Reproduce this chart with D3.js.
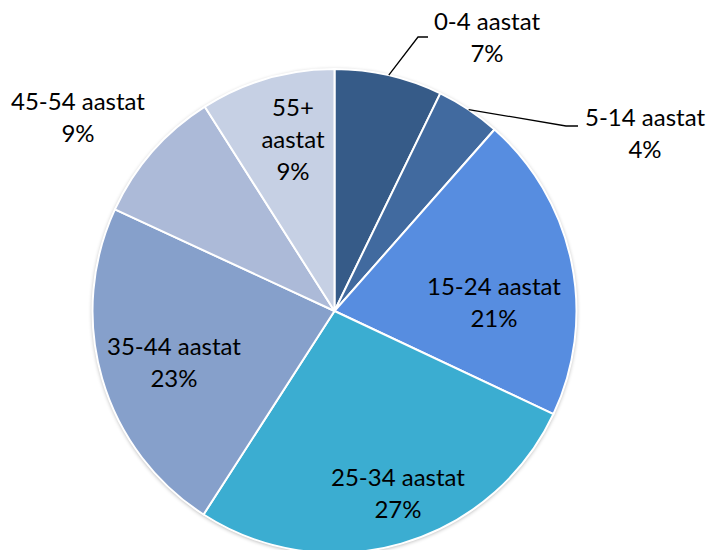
<!DOCTYPE html>
<html>
<head>
<meta charset="utf-8">
<script src="https://cdn.jsdelivr.net/npm/d3@7"></script>
<style>
  html, body { margin: 0; padding: 0; background: #fff; }
  svg { display: block; }
  text { font-family: Lato, "Open Sans", sans-serif; fill: #000; }
</style>
</head>
<body>
<svg id="chart" width="710" height="550"></svg>
<script>
// ---- data ----
const categories = ["0-4 aastat", "5-14 aastat", "15-24 aastat", "25-34 aastat", "35-44 aastat", "45-54 aastat", "55+ aastat"];
const shares = [7.2, 4.3, 20.5, 27.1, 22.8, 9.1, 9.0];
const percentLabels = ["7%", "4%", "21%", "27%", "23%", "9%", "9%"];
const labelLines = [["0-4 aastat"], ["5-14 aastat"], ["15-24 aastat"], ["25-34 aastat"], ["35-44 aastat"], ["45-54 aastat"], ["55+", "aastat"]];

// ---- layout / style ----
const colors = ["#365b88", "#416a9f", "#578de0", "#3badd1", "#86a0cb", "#acbad8", "#c6d0e4"];
const cx = 334.5, cy = 311, R = 242;
const fontSize = 24, lineH = 32;
// label centre (first line) positions
const labelPos = [[487, 22], [645, 118], [494, 287], [398, 478], [174, 347], [78, 102], [293, 108]];
// leader elbows for outside labels: [elbowX, elbowY, endX]
const leaders = {0: [418, 37, 428], 1: [566, 126, 578]};

const svg = d3.select("#chart");
const defs = svg.append("defs");
const f = defs.append("filter").attr("id", "sh").attr("x", "-10%").attr("y", "-10%").attr("width", "120%").attr("height", "120%");
f.append("feGaussianBlur").attr("in", "SourceAlpha").attr("stdDeviation", 2);
f.append("feOffset").attr("dx", 0).attr("dy", 1).attr("result", "b");
f.append("feComponentTransfer").append("feFuncA").attr("type", "linear").attr("slope", 0.35);
const m = f.append("feMerge");
m.append("feMergeNode");
m.append("feMergeNode").attr("in", "SourceGraphic");

const pie = d3.pie().sort(null).value(d => d).startAngle(0).endAngle(2 * Math.PI);
const arcs = pie(shares);
const arc = d3.arc().innerRadius(0).outerRadius(R);

const g = svg.append("g").attr("transform", `translate(${cx},${cy})`);
g.append("circle").attr("r", R).attr("fill", "#fff").attr("filter", "url(#sh)");
g.selectAll("path.slice")
  .data(arcs)
  .join("path")
  .attr("class", "slice")
  .attr("d", arc)
  .attr("fill", (d, i) => colors[i])
  .attr("stroke", "#fff")
  .attr("stroke-width", 2)
  .attr("stroke-linejoin", "round");

// leader lines
Object.keys(leaders).forEach(k => {
  const i = +k;
  const a = arcs[i];
  const mid = (a.startAngle + a.endAngle) / 2;
  const sx = cx + R * Math.sin(mid), sy = cy - R * Math.cos(mid);
  const [ex, ey, endX] = leaders[k];
  svg.append("polyline")
    .attr("points", `${sx},${sy} ${ex},${ey} ${endX},${ey}`)
    .attr("fill", "none")
    .attr("stroke", "#000")
    .attr("stroke-width", 1.3);
});

// labels
categories.forEach((c, i) => {
  const [x, y] = labelPos[i];
  const lines = labelLines[i].concat([percentLabels[i]]);
  const t = svg.append("text")
    .attr("text-anchor", "middle")
    .attr("font-size", fontSize);
  lines.forEach((ln, j) => {
    t.append("tspan")
      .attr("x", x)
      .attr("y", y + j * lineH)
      .attr("dy", "0.35em")
      .text(ln);
  });
});
</script>
</body>
</html>
